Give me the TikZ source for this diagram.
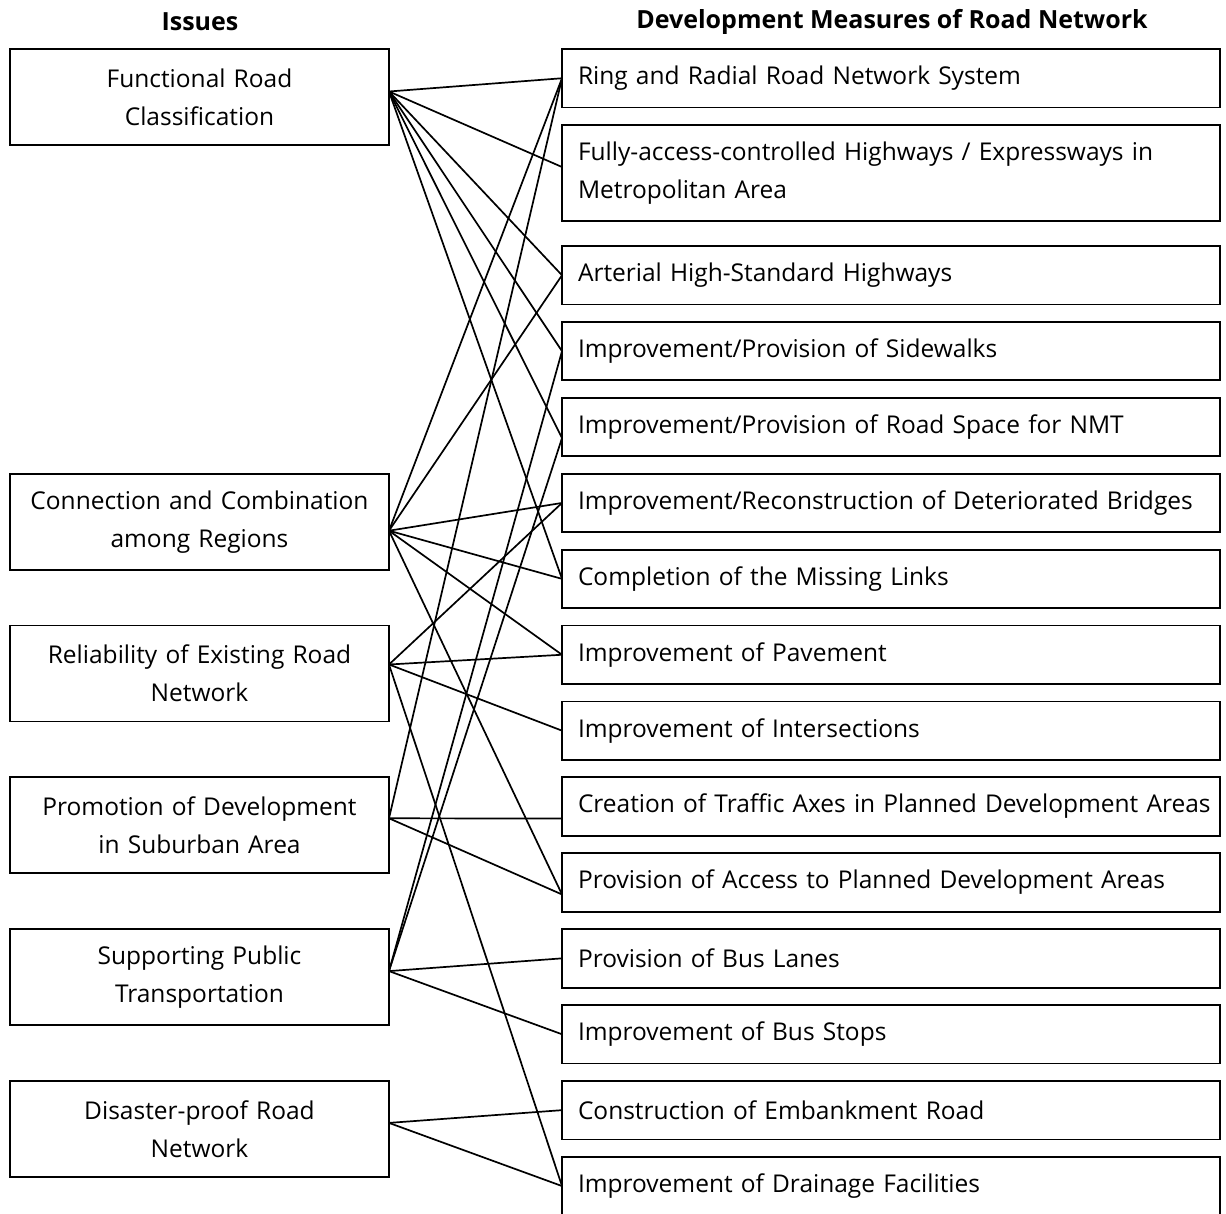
\documentclass[tikz,border=0pt]{standalone}
\usepackage{fontspec}
\setmainfont{Open Sans}
\usepackage{tikz}
\usetikzlibrary{positioning}
\tikzset{IssueBox/.style={%
    shape=rectangle,%
    draw=black,%
    line width=1.8pt,%
    text width=347pt,%
    align=center,%
    inner xsep=16pt,%
    inner ysep=0pt,%
    outer sep=0pt,%
    minimum height=96pt,%
    font=\fontsize{24.5}{38}\selectfont,%
}}
\tikzset{MeasureBox/.style={%
    shape=rectangle,%
    draw=black,%
    line width=1.8pt,%
    text width=626pt,%
    align=left,%
    inner xsep=16pt,%
    inner ysep=0pt,%
    outer sep=0pt,%
    minimum height=58.5pt,%
    anchor=north west,%
    font=\fontsize{24.5}{38}\selectfont,%
}}
\tikzset{Heading/.style={%
    font=\fontsize{25}{38}\selectfont\bfseries,%
}}
\tikzset{LinkEdge/.style={%
    -,%
    line width=1.7pt,%
}}

\begin{document}
\begin{tikzpicture}[x=1pt, y=-1pt]
    \useasboundingbox (0,0) rectangle (1226,1214);
    \node[Heading] (hIssues) at (200,22) {Issues};
    \node[Heading] (hMeasures) at (892,22) {Development Measures of Road Network};

    % measures
    \node[MeasureBox] (m1) at (562,49) {Ring and Radial Road Network System};
    \node[MeasureBox, below=17.5pt of m1, minimum height=96pt] (m2) {Fully-access-controlled Highways / Expressways in\\Metropolitan Area};
    \node[MeasureBox, below=25pt of m2] (m3) {Arterial High-Standard Highways};
    \node[MeasureBox, below=17.4pt of m3] (m4) {Improvement/Provision of Sidewalks};
    \node[MeasureBox, below=17.4pt of m4] (m5) {Improvement/Provision of Road Space for NMT};
    \node[MeasureBox, below=17.4pt of m5] (m6) {Improvement/Reconstruction of Deteriorated Bridges};
    \node[MeasureBox, below=17.4pt of m6] (m7) {Completion of the Missing Links};
    \node[MeasureBox, below=17.4pt of m7] (m8) {Improvement of Pavement};
    \node[MeasureBox, below=17.4pt of m8] (m9) {Improvement of Intersections};
    \node[MeasureBox, below=17.4pt of m9] (m10) {\mbox{Creation of Traffic Axes in Planned Development Areas}};
    \node[MeasureBox, below=17.4pt of m10] (m11) {Provision of Access to Planned Development Areas};
    \node[MeasureBox, below=17.4pt of m11] (m12) {Provision of Bus Lanes};
    \node[MeasureBox, below=17.4pt of m12] (m13) {Improvement of Bus Stops};
    \node[MeasureBox, below=17.4pt of m13] (m14) {Construction of Embankment Road};
    \node[MeasureBox, below=17.4pt of m14] (m15) {Improvement of Drainage Facilities};

    % issues
    \node[IssueBox, left=173pt of m1.north west, anchor=north east] (i1) {Functional Road\\Classification};
    \node[IssueBox, left=173pt of m6.north west, anchor=north east] (i2) {Connection and Combination\\among Regions};
    \node[IssueBox, left=173pt of m8.north west, anchor=north east] (i3) {Reliability of Existing Road\\Network};
    \node[IssueBox, left=173pt of m10.north west, anchor=north east] (i4) {Promotion of Development\\in Suburban Area};
    \node[IssueBox, left=173pt of m12.north west, anchor=north east] (i5) {Supporting Public\\Transportation};
    \node[IssueBox, left=173pt of m14.north west, anchor=north east] (i6) {Disaster-proof Road\\Network};

    \path ([yshift=5.5pt]i1.east) edge[LinkEdge] (m1.west);
    \path ([yshift=5.5pt]i1.east) edge[LinkEdge] ([yshift=6pt]m2.west);
    \path ([yshift=5.5pt]i1.east) edge[LinkEdge] (m3.west);
    \path ([yshift=5.5pt]i1.east) edge[LinkEdge] (m4.west);
    \path ([yshift=5.5pt]i1.east) edge[LinkEdge] ([yshift=-11pt]m5.west);
    \path ([yshift=5.5pt]i1.east) edge[LinkEdge] (m7.west);

    \path ([yshift=-9pt]i2.east) edge[LinkEdge] (m1.west);
    \path ([yshift=-9pt]i2.east) edge[LinkEdge] (m3.west);
    \path ([yshift=-9pt]i2.east) edge[LinkEdge] (m6.west);
    \path ([yshift=-9pt]i2.east) edge[LinkEdge] (m7.west);
    \path ([yshift=-9pt]i2.east) edge[LinkEdge] (m8.west);
    \path ([yshift=-9pt]i2.east) edge[LinkEdge] ([yshift=-12pt]m11.west);

    \path ([yshift=9pt]i3.east) edge[LinkEdge] (m6.west);
    \path ([yshift=9pt]i3.east) edge[LinkEdge] (m8.west);
    \path ([yshift=9pt]i3.east) edge[LinkEdge] (m9.west);
    \path ([yshift=9pt]i3.east) edge[LinkEdge] (m15.west);

    \path ([yshift=7pt]i4.east) edge[LinkEdge] (m1.west);
    \path ([yshift=7pt]i4.east) edge[LinkEdge] ([yshift=-12pt]m10.west);
    \path ([yshift=7pt]i4.east) edge[LinkEdge] ([yshift=-12pt]m11.west);

    \path ([yshift=6pt]i5.east) edge[LinkEdge] (m4.west);
    \path ([yshift=6pt]i5.east) edge[LinkEdge] ([yshift=-11pt]m5.west);
    \path ([yshift=6pt]i5.east) edge[LinkEdge] (m12.west);
    \path ([yshift=6pt]i5.east) edge[LinkEdge] (m13.west);

    \path ([yshift=6pt]i6.east) edge[LinkEdge] (m14.west);
    \path ([yshift=6pt]i6.east) edge[LinkEdge] (m15.west);
\end{tikzpicture}
\end{document}
